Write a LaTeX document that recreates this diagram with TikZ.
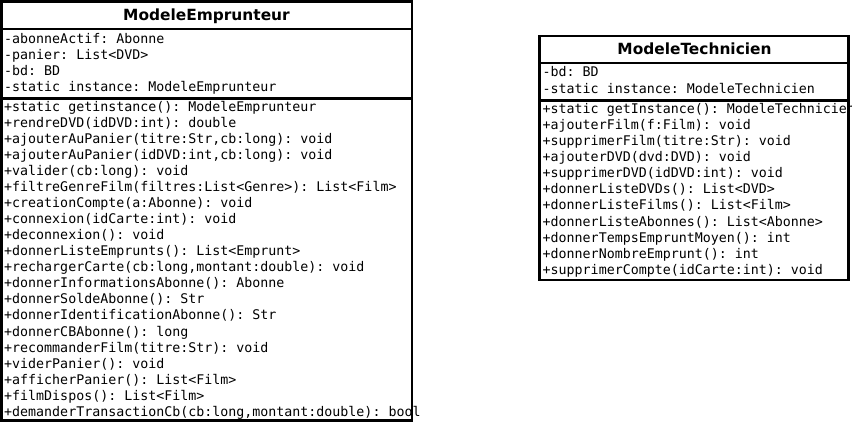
\documentclass[tikz,border=0pt]{standalone}
\usepackage{fontspec}
\setmainfont{DejaVu Sans}
\setmonofont{DejaVu Sans Mono}
\begin{document}
\begin{tikzpicture}[x=1pt,y=-1pt,
  boxline/.style={draw=black,line width=2.7pt},
  title/.style={font=\bfseries\fontsize{15.4}{18}\selectfont,inner sep=0pt},
  member/.style={font=\ttfamily\fontsize{13.3}{16}\selectfont,anchor=base west,inner sep=0pt}]
\useasboundingbox (0,0) rectangle (852,423);
% ---------- ModeleEmprunteur ----------
\node[title] (t1) at (206.5,16) {ModeleEmprunteur};
\foreach \txt [count=\i] in {
  {-abonneActif: Abonne},
  {-panier: List<DVD>},
  {-bd: BD},
  {-static instance: ModeleEmprunteur}}
  \node[member] (ea\i) at (4,{43.5+16*(\i-1)}) {\txt};
\foreach \txt [count=\i] in {
  {+static getinstance(): ModeleEmprunteur},
  {+rendreDVD(idDVD:int): double},
  {+ajouterAuPanier(titre:Str,cb:long): void},
  {+ajouterAuPanier(idDVD:int,cb:long): void},
  {+valider(cb:long): void},
  {+filtreGenreFilm(filtres:List<Genre>): List<Film>},
  {+creationCompte(a:Abonne): void},
  {+connexion(idCarte:int): void},
  {+deconnexion(): void},
  {+donnerListeEmprunts(): List<Emprunt>},
  {+rechargerCarte(cb:long,montant:double): void},
  {+donnerInformationsAbonne(): Abonne},
  {+donnerSoldeAbonne(): Str},
  {+donnerIdentificationAbonne(): Str},
  {+donnerCBAbonne(): long},
  {+recommanderFilm(titre:Str): void},
  {+viderPanier(): void},
  {+afficherPanier(): List<Film>},
  {+filmDispos(): List<Film>},
  {+demanderTransactionCb(cb:long,montant:double): bool}}
  \node[member] (em\i) at (4,{111.3+16.05*(\i-1)}) {\txt};
\draw[boxline] (1.3,1.3) rectangle (412,420.5);
\draw[boxline] (1.3,29) -- (412,29);
\draw[boxline] (1.3,98.5) -- (412,98.5);
% ---------- ModeleTechnicien ----------
\node[title] (t2) at (694.5,48.5) {ModeleTechnicien};
\foreach \txt [count=\i] in {
  {-bd: BD},
  {-static instance: ModeleTechnicien}}
  \node[member] (ta\i) at (542.5,{76.5+16.5*(\i-1)}) {\txt};
\foreach \txt [count=\i] in {
  {+static getInstance(): ModeleTechnicien},
  {+ajouterFilm(f:Film): void},
  {+supprimerFilm(titre:Str): void},
  {+ajouterDVD(dvd:DVD): void},
  {+supprimerDVD(idDVD:int): void},
  {+donnerListeDVDs(): List<DVD>},
  {+donnerListeFilms(): List<Film>},
  {+donnerListeAbonnes(): List<Abonne>},
  {+donnerTempsEmpruntMoyen(): int},
  {+donnerNombreEmprunt(): int},
  {+supprimerCompte(idCarte:int): void}}
  \node[member] (tm\i) at (542.5,{113.3+16.1*(\i-1)}) {\txt};
\draw[boxline] (539.5,36) rectangle (848.5,280);
\draw[boxline] (539.5,63) -- (848.5,63);
\draw[boxline] (539.5,100.5) -- (848.5,100.5);
\end{tikzpicture}
\end{document}
